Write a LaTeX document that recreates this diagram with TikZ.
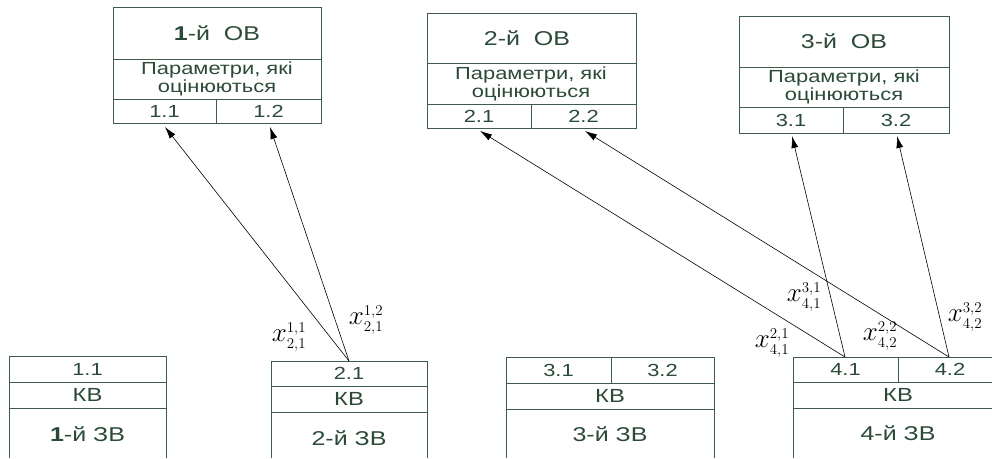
\RequirePackage{fix-cm}
\documentclass[tikz,border=0pt]{standalone}
\usepackage{fontspec}
\setmainfont[FakeStretch=1.25]{Liberation Sans}
\usetikzlibrary{arrows.meta}
\DeclareMathSizes{27}{27}{15}{11}
\definecolor{frame}{HTML}{3E5C4C}
\definecolor{ink}{HTML}{2B4A38}
\tikzset{
  box/.style={draw=frame, line width=0.9pt},
  txt/.style={text=ink, font=\fontsize{17.5}{18}\selectfont, inner sep=0pt, align=center},
  kv/.style={txt, font=\fontsize{19}{19}\selectfont},
  big/.style={txt, font=\fontsize{20}{20}\selectfont},
  link/.style={black, line width=0.6pt, -{Latex[length=12pt,width=7pt]}},
  var/.style={font=\fontsize{27}{27}\selectfont, inner sep=0pt},
}
\begin{document}
\begin{tikzpicture}[x=1pt,y=-1pt]
\clip (0,0) rectangle (992,458);
\fill[white] (0,0) rectangle (992,458);

% ---- estimated objects (top row) ----
\draw[box] (113,7) rectangle (321,123);
\draw[box] (113,59) -- (321,59) (113,99) -- (321,99) (216,99) -- (216,123);
\node[big] (ov1) at (217,33) {\textbf{1}-й\ \ ОВ};
\node[txt] (ov1p) at (217,79) {Параметри, які\\оцінюються};
\node[txt] (ov1a) at (164.5,111) {1.1};
\node[txt] (ov1b) at (268.5,111) {1.2};

\draw[box] (427,13) rectangle (636,128);
\draw[box] (427,63) -- (636,63) (427,104) -- (636,104) (531,104) -- (531,128);
\node[big] (ov2) at (527,38) {2-й\ \ ОВ};
\node[txt] (ov2p) at (531,84) {Параметри, які\\оцінюються};
\node[txt] (ov2a) at (479,116) {2.1};
\node[txt] (ov2b) at (583.5,116) {2.2};

\draw[box] (739,16) rectangle (949,133);
\draw[box] (739,67) -- (949,67) (739,107) -- (949,107) (843,107) -- (843,133);
\node[big] (ov3) at (844,41) {3-й\ \ ОВ};
\node[txt] (ov3p) at (844,87) {Параметри, які\\оцінюються};
\node[txt] (ov3a) at (791,120) {3.1};
\node[txt] (ov3b) at (896,120) {3.2};

% ---- measuring objects (bottom row, open at the bottom) ----
\draw[box] (9,458) -- (9,356) -- (166,356) -- (166,458) (9,382) -- (166,382) (9,408) -- (166,408);
\node[txt] (zv1a) at (87.5,369) {1.1};
\node[kv] (zv1k) at (87.5,395) {КВ};
\node[big] (zv1) at (87.5,434) {\textbf{1}-й ЗВ};

\draw[box] (271,458) -- (271,361) -- (427,361) -- (427,458) (271,386) -- (427,386) (271,412) -- (427,412);
\node[txt] (zv2a) at (349,373.5) {2.1};
\node[kv] (zv2k) at (349,399) {КВ};
\node[big] (zv2) at (349,438) {2-й ЗВ};

\draw[box] (506,458) -- (506,357) -- (714,357) -- (714,458) (506,383) -- (714,383) (506,409) -- (714,409) (611,357) -- (611,383);
\node[txt] (zv3a) at (558.5,370) {3.1};
\node[txt] (zv3b) at (662.5,370) {3.2};
\node[kv] (zv3k) at (610,396) {КВ};
\node[big] (zv3) at (610,434) {3-й ЗВ};

\draw[box] (793,458) -- (793,357) -- (1003,357) -- (1003,458) (793,382) -- (1003,382) (793,408) -- (1003,408) (898,357) -- (898,382);
\node[txt] (zv4a) at (845.5,369.5) {4.1};
\node[txt] (zv4b) at (950,369.5) {4.2};
\node[kv] (zv4k) at (898,395) {КВ};
\node[big] (zv4) at (898,433) {4-й ЗВ};

% ---- connector ends ----
\coordinate (s21) at (349,361);
\coordinate (s41) at (845,357);
\coordinate (s42) at (949,357);
\coordinate (t11) at (165,127);
\coordinate (t12) at (270,127);
\coordinate (t21) at (480,131);
\coordinate (t22) at (585,131);
\coordinate (t31) at (792,136);
\coordinate (t32) at (897,136);

\draw[link] (s21) -- (t11);
\draw[link] (s21) -- (t12);
\draw[link] (s41) -- (t21);
\draw[link] (s41) -- (t31);
\draw[link] (s42) -- (t22);
\draw[link] (s42) -- (t32);

% ---- connector labels ----
\node[var] (x2111) at (289,337) {$x_{2,1}^{1,1}$};
\node[var] (x2112) at (366,320) {$x_{2,1}^{1,2}$};
\node[var] (x4121) at (772,343) {$x_{4,1}^{2,1}$};
\node[var] (x4131) at (804,297) {$x_{4,1}^{3,1}$};
\node[var] (x4222) at (880,336) {$x_{4,2}^{2,2}$};
\node[var] (x4232) at (965,317) {$x_{4,2}^{3,2}$};
\end{tikzpicture}
\end{document}
